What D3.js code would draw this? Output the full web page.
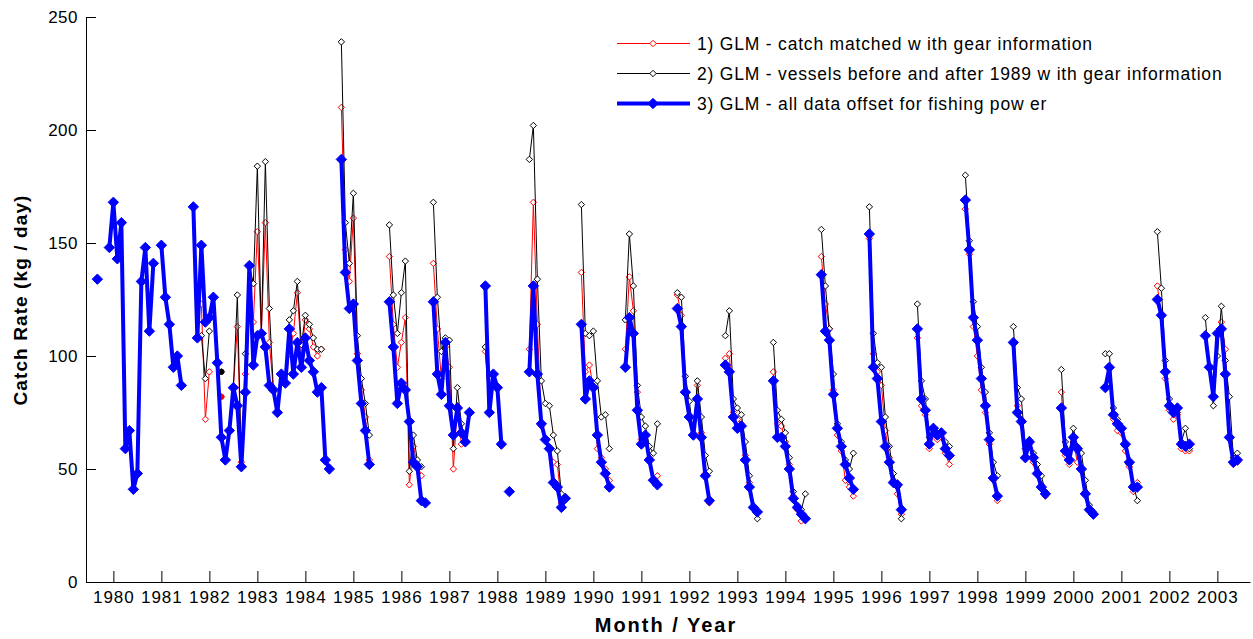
<!DOCTYPE html>
<html>
<head>
<meta charset="utf-8">
<script src="https://cdn.jsdelivr.net/npm/d3@7"></script>
<style>
  body { margin: 0; background: #fff; }
  text { font-family: "Liberation Sans", Arial, sans-serif; }
</style>
</head>
<body>
<div id="chart"></div>
<script>
// tick labels
const yearTicks = d3.range(1980, 2004);
const rateTicks = [0, 50, 100, 150, 200, 250];

const legendLabels = [
  "1) GLM - catch matched w ith gear information",
  "2) GLM - vessels before and after 1989 w ith gear information",
  "3) GLM - all data offset for fishing pow er"
];

// each entry: [first month, monthly values...] - a new entry means a gap in the line
const glm1 = [
  ["1981-11", [123, 72, 93]],
  ["1982-04", [82]],
  ["1982-07", [86, 113, 53, 92, 140, 115, 155, 110, 159, 106, 85, 75, 92, 88, 101, 110, 128, 100, 116, 112, 104, 100, 103]],
  ["1984-10", [210, 147, 133, 161, 101, 85, 73, 54]],
  ["1985-10", [144, 114, 95, 106, 117, 43, 60, 52, 47]],
  ["1986-09", [141, 112, 90, 104, 95, 50, 78, 61, 62, 75]],
  ["1987-10", [102, 75, 92, 86, 61]],
  ["1988-09", [103, 168, 114, 69, 63, 59, 53, 52, 35, 37]],
  ["1989-10", [137, 93, 96, 86, 59, 55, 50, 45]],
  ["1990-09", [103, 135, 120, 84, 63, 65, 55, 45, 47]],
  ["1991-10", [127, 118, 84, 73, 65, 87, 66, 48, 35]],
  ["1992-10", [99, 101, 75, 72, 70, 56, 44, 33, 31]],
  ["1993-10", [93, 70, 69, 62, 52, 38, 32, 27, 28]],
  ["1994-10", [144, 123, 112, 85, 65, 58, 45, 42, 38]],
  ["1995-10", [152, 101, 93, 87, 67, 55, 45, 39, 30]],
  ["1996-10", [108, 78, 74, 59, 65, 63, 64, 57, 52]],
  ["1997-10", [165, 145, 113, 100, 85, 75, 61, 45, 36]],
  ["1998-10", [106, 78, 72, 55, 61, 53, 48, 43, 38]],
  ["1999-10", [84, 56, 52, 62, 53, 50, 40, 32, 30]],
  ["2000-09", [86, 95, 72, 67, 66, 58, 51, 40, 44]],
  ["2001-10", [131, 118, 90, 76, 72, 74, 59, 58, 58]],
  ["2002-10", [109, 95, 82, 110, 115, 103, 64, 52, 53]]
];

const glm2 = [
  ["1981-11", [109, 90, 111]],
  ["1982-04", [93]],
  ["1982-07", [86, 127, 51, 101, 140, 132, 184, 110, 186, 121, 85, 75, 92, 88, 116, 120, 133, 105, 118, 114, 108, 103, 103]],
  ["1984-10", [239, 159, 141, 172, 109, 90, 79, 65]],
  ["1985-10", [158, 127, 110, 128, 142, 49, 65, 54, 51]],
  ["1986-09", [168, 126, 102, 108, 107, 59, 86, 70, 62, 75]],
  ["1987-10", [104, 75, 92, 86, 61]],
  ["1988-09", [187, 202, 134, 89, 79, 78, 65, 58, 39, 37]],
  ["1989-10", [167, 110, 109, 111, 89, 73, 74, 59]],
  ["1990-09", [116, 154, 131, 87, 73, 69, 60, 57, 70]],
  ["1991-10", [128, 126, 91, 80, 65, 89, 73, 56, 49]],
  ["1992-10", [109, 120, 81, 77, 74, 62, 47, 33, 28]],
  ["1993-10", [106, 76, 72, 66, 55, 40, 34, 32, 39]],
  ["1994-10", [156, 131, 112, 92, 70, 62, 54, 50, 57]],
  ["1995-10", [166, 110, 97, 95, 73, 60, 48, 42, 28]],
  ["1996-10", [123, 89, 81, 64, 68, 66, 66, 62, 60]],
  ["1997-10", [180, 151, 124, 113, 95, 84, 66, 53, 47]],
  ["1998-10", [113, 86, 81, 59, 63, 57, 52, 47, 40]],
  ["1999-10", [94, 62, 58, 68, 60, 57, 45, 34, 31]],
  ["2000-09", [101, 101, 77, 72, 68, 60, 52, 43, 36]],
  ["2001-10", [155, 130, 98, 81, 76, 75, 62, 68, 59]],
  ["2002-10", [117, 95, 78, 100, 122, 98, 82, 55, 57]]
];

const glm3 = [
  ["1979-09", [134]],
  ["1979-12", [148, 168, 143, 159, 59, 67, 41, 48, 133, 148, 111, 141]],
  ["1981-01", [149, 126, 114, 95, 100, 87]],
  ["1981-09", [166, 108, 149, 115, 117, 126, 97, 64, 54, 67, 86, 78, 51, 84, 140, 96,
               109, 110, 104, 87, 85, 75, 92, 88, 112, 92, 106, 95, 108, 98, 93, 84, 86, 54, 50]],
  ["1984-10", [187, 137, 121, 123, 98, 79, 67, 52]],
  ["1985-10", [124, 104, 79, 88, 85, 71, 53, 51, 36, 35]],
  ["1986-09", [124, 92, 83, 106, 78, 65, 77, 66, 62, 75]],
  ["1987-10", [131, 75, 92, 86, 61]],
  ["1988-04", [40]],
  ["1988-09", [93, 131, 92, 70, 63, 59, 44, 42, 33, 37]],
  ["1989-10", [114, 81, 89, 86, 65, 53, 48, 42]],
  ["1990-09", [95, 117, 110, 76, 61, 65, 54, 45, 43]],
  ["1991-10", [121, 113, 84, 73, 65, 81, 64, 47, 36]],
  ["1992-10", [96, 93, 73, 68, 69, 54, 42, 33, 31]],
  ["1993-10", [89, 64, 64, 60, 50, 37, 33, 30, 28]],
  ["1994-10", [136, 111, 107, 83, 68, 60, 52, 46, 41]],
  ["1995-10", [154, 95, 90, 71, 60, 53, 44, 43, 32]],
  ["1996-10", [112, 81, 76, 61, 68, 65, 66, 59, 56]],
  ["1997-10", [169, 147, 117, 107, 90, 78, 63, 46, 38]],
  ["1998-10", [106, 75, 71, 55, 62, 55, 48, 42, 39]],
  ["1999-10", [77, 58, 54, 64, 59, 50, 39, 32, 30]],
  ["2000-09", [86, 95, 74, 70, 68, 61, 53, 42, 42]],
  ["2001-10", [125, 118, 93, 78, 75, 77, 61, 60, 61]],
  ["2002-10", [109, 95, 82, 110, 112, 92, 64, 53, 54]]
];

let svg = d3.select("#chart").append("svg").attr("width", 1253).attr("height", 639);

let x = d3.scaleLinear().domain([1979.43, 2003.68]).range([86, 1250]);
let y = d3.scaleLinear().domain([0, 250]).range([582, 17]);

// turn [start, values] into points with a decimal-year date
function toSegments(list) {
  return list.map(([start, vals]) => {
    let [yr, mo] = start.split("-").map(Number);
    return vals.map((v, i) => ({ t: yr + (mo - 1 + i) / 12, v: v }));
  });
}

let line = d3.line().x(d => x(d.t)).y(d => y(d.v));
let diamond = r => `M0,${-r}L${r},0L0,${r}L${-r},0Z`;

let styles = [
  { data: glm1, color: "#ff0000", width: 1, r: 3.2, fill: "#fff" },
  { data: glm2, color: "#000000", width: 1, r: 3.2, fill: "#fff" },
  { data: glm3, color: "#0000ff", width: 4, r: 5.2, fill: "#0000ff" }
];

// axes
svg.append("g")
  .attr("transform", "translate(0,582)")
  .call(d3.axisBottom(x).tickValues(yearTicks).tickFormat(d3.format("d"))
    .tickSizeInner(-11).tickSizeOuter(0).tickPadding(9))
  .call(g => g.selectAll("text").attr("font-size", 17).attr("letter-spacing", 1).attr("fill", "#000")
    .attr("font-family", "Liberation Sans, Arial, sans-serif"));

svg.append("g")
  .attr("transform", "translate(86,0)")
  .call(d3.axisLeft(y).tickValues(rateTicks).tickSizeInner(-10).tickSizeOuter(0).tickPadding(8))
  .call(g => g.selectAll("text").attr("font-size", 17).attr("letter-spacing", 0.5).attr("fill", "#000")
    .attr("font-family", "Liberation Sans, Arial, sans-serif"));

svg.selectAll(".domain, .tick line").attr("stroke", "#000");

styles.forEach(s => {
  let segs = toSegments(s.data);
  let g = svg.append("g");
  g.selectAll("path.seg")
    .data(segs.filter(d => d.length > 1))
    .enter().append("path")
    .attr("fill", "none")
    .attr("stroke", s.color)
    .attr("stroke-width", s.width)
    .attr("stroke-linejoin", "round")
    .attr("d", line);
  g.selectAll("path.mk")
    .data(segs.flat())
    .enter().append("path")
    .attr("transform", d => `translate(${x(d.t)},${y(d.v)})`)
    .attr("d", diamond(s.r))
    .attr("fill", s.fill)
    .attr("stroke", s.color)
    .attr("stroke-width", 1);
  // lone points of the thin series show as solid dots
  if (s.width === 1) {
    g.selectAll("circle")
      .data(segs.filter(d => d.length === 1).flat())
      .enter().append("circle")
      .attr("cx", d => x(d.t)).attr("cy", d => y(d.v)).attr("r", 3)
      .attr("fill", s.color);
  }
});

// legend
let legend = svg.append("g").attr("transform", "translate(617,43.5)");
styles.forEach((s, i) => {
  let row = legend.append("g").attr("transform", `translate(0,${i * 30})`);
  row.append("line").attr("x1", 0).attr("x2", 73).attr("stroke", s.color).attr("stroke-width", s.width);
  row.append("path").attr("transform", "translate(36,0)").attr("d", diamond(s.r))
    .attr("fill", s.fill).attr("stroke", s.color);
  row.append("text").attr("x", 80).attr("dy", "0.36em")
    .attr("font-size", 17.5).attr("letter-spacing", 0.8)
    .text(legendLabels[i]);
});

svg.append("text")
  .attr("transform", "translate(27,300) rotate(-90)")
  .attr("text-anchor", "middle")
  .attr("font-size", 19).attr("font-weight", "bold")
  .attr("letter-spacing", 1.1)
  .text("Catch Rate (kg / day)");

svg.append("text")
  .attr("x", 666).attr("y", 632)
  .attr("text-anchor", "middle")
  .attr("font-size", 20).attr("font-weight", "bold")
  .attr("letter-spacing", 2)
  .text("Month / Year");
</script>
</body>
</html>
